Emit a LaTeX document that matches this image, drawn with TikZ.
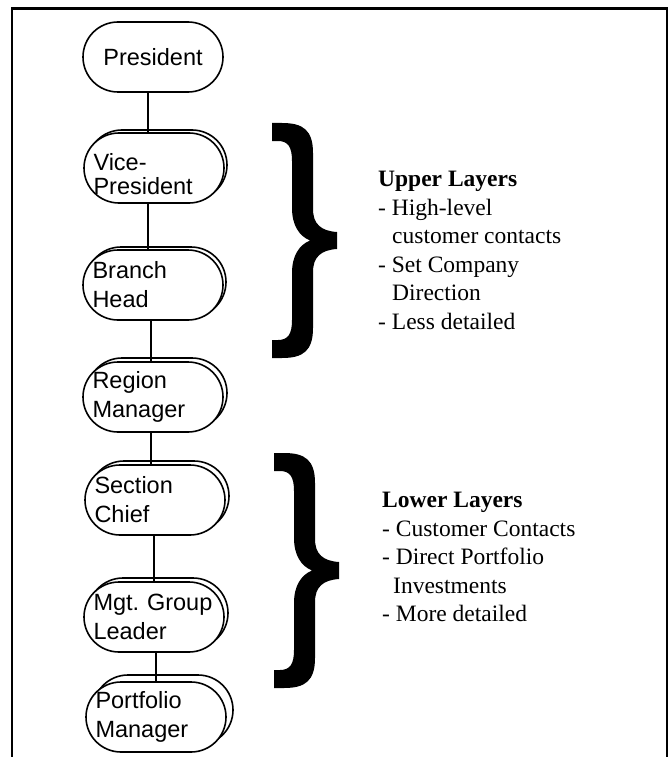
\documentclass[tikz,border=0pt]{standalone}
\usepackage{fontspec}
\setmainfont{Liberation Serif}
\newfontfamily\boxfont{Liberation Sans}
\usetikzlibrary{shadows}

\tikzset{
  layer/.style={draw, fill=white, line width=1.6pt, rounded corners=35pt,
    minimum width=140pt, minimum height=70pt, text width=121pt, inner xsep=9.5pt,
    align=left, font=\boxfont\fontsize{23.5}{29}\selectfont},
  stacked/.style={copy shadow={shadow xshift=#1, shadow yshift=#1}},
  link/.style={line width=2pt},
  layernote/.style={align=left, inner sep=0pt, font=\fontsize{23.5}{28.5}\selectfont},
  layerbrace/.pic={
    \fill (0,0) -- (10,0) .. controls (31,0) and (41,7) .. (41,30)
      -- (41,86) .. controls (41,101) and (49,108) .. (65,109)
      -- (65,126) .. controls (49,127) and (41,134) .. (41,149)
      -- (41,205) .. controls (41,228) and (31,235) .. (10,235)
      -- (0,235) -- (0,217) -- (6,217) .. controls (16,217) and (20,211) .. (20,197)
      -- (20,150) .. controls (20,133) and (27,122) .. (38,117.5)
      .. controls (27,113) and (20,102) .. (20,85)
      -- (20,38) .. controls (20,24) and (16,18) .. (6,18) -- (0,18) -- cycle;
  }
}

\begin{document}
\begin{tikzpicture}[x=1pt, y=-1pt]
    \useasboundingbox (0,0) rectangle (669,757);

    % frame, open at the bottom
    \draw[line width=2pt] (12,757) -- (12,9) -- (667,9) -- (667,757);
    \draw[line width=3pt] (11,9) -- (668,9);

    % the chain of positions
    \node[layer, align=center] (pres) at (153,57) {President};
    \node[layer, stacked=3pt, text height=30pt, font=\boxfont\fontsize{23.5}{24}\selectfont] (vp) at (154,168) {Vice-\\President};
    \node[layer, stacked=3pt] (bhead) at (153,285) {Branch\\Head};
    \node[layer, stacked=4pt] (rmgr) at (153,397) {Region\\Manager};
    \node[layer, stacked=4pt] (schief) at (155,500) {Section\\Chief};
    \node[layer, stacked=4pt] (mgl) at (154,617) {Mgt.\ Group\\Leader};
    \node[layer, stacked=7pt] (pmgr) at (156,717) {Portfolio\\Manager};

    \foreach \a/\b/\dx in {pres/vp/-5, vp/bhead/-6, bhead/rmgr/-2, rmgr/schief/-2, schief/mgl/-1, mgl/pmgr/2}
        \draw[link] ([xshift=\dx pt]\a.south) -- ([xshift=\dx pt]\a.south |- \b.north);

    % braces and notes
    \pic at (272,123) {layerbrace};
    \pic at (274,453) {layerbrace};

    \node[layernote, anchor=north west] (upper) at (378,171) {\textbf{Upper Layers}\\
        - High-level\\\hspace*{14pt}customer contacts\\
        - Set Company\\\hspace*{14pt}Direction\\
        - Less detailed};
    \node[layernote, anchor=north west] (lower) at (382,492) {\textbf{Lower Layers}\\
        - Customer Contacts\\
        - Direct Portfolio\\\hspace*{11pt}Investments\\
        - More detailed};
\end{tikzpicture}
\end{document}
